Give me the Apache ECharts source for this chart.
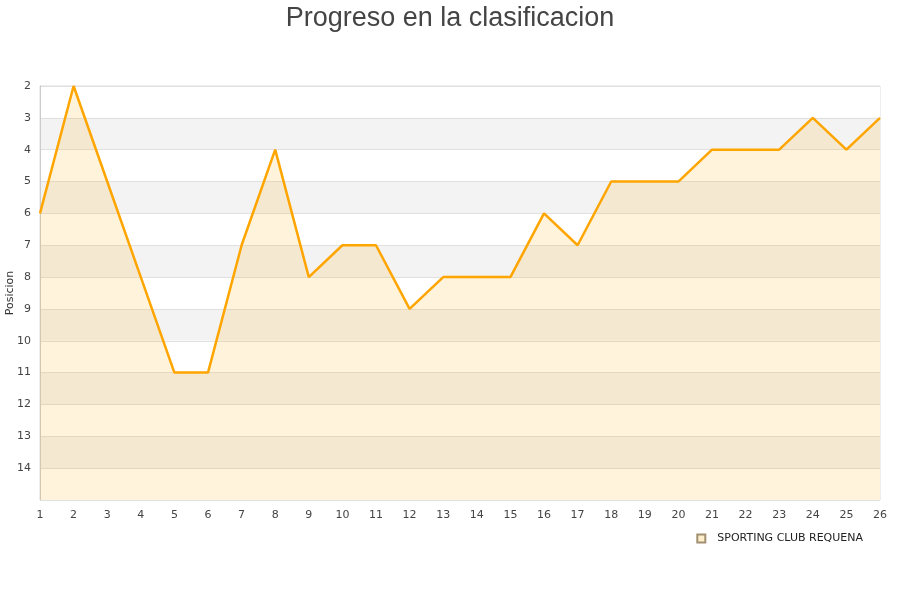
<!DOCTYPE html>
<html>
<head>
<meta charset="utf-8">
<script src="https://cdn.jsdelivr.net/npm/echarts@6/dist/echarts.min.js"></script>
<style>html,body{margin:0;padding:0;background:#fff}#c{width:900px;height:600px}</style>
</head>
<body>
<div id="c"></div>
<script>
var titleText = 'Progreso en la clasificacion';
var seriesName = 'SPORTING CLUB REQUENA';
var yAxisName = 'Posicion';
var jornadas = ['1','2','3','4','5','6','7','8','9','10','11','12','13','14','15','16','17','18','19','20','21','22','23','24','25','26'];
var posiciones = [6,2,5,8,11,11,7,4,8,7,7,9,8,8,8,6,7,5,5,5,4,4,4,3,4,3];
var yMin = 2, yMax = 15;

var chart = echarts.init(document.getElementById('c'));
chart.setOption({
  animation: false,
  title: {
    text: titleText, left: 'center', top: 0,
    textStyle: {fontFamily: 'Liberation Sans', fontSize: 27, fontWeight: 'normal', color: '#444'}
  },
  legend: {
    data: [{name: seriesName, icon: 'rect'}],
    right: 32, top: 528, itemWidth: 8, itemHeight: 8, itemGap: 8,
    textStyle: {fontFamily: 'DejaVu Sans', fontSize: 11, color: '#222', padding: [0, 0, 0, 7]}
  },
  grid: {left: 40, right: 20, top: 86, bottom: 100, show: true, borderColor: '#ddd', borderWidth: 1, containLabel: false, outerBoundsMode: 'none'},
  xAxis: {
    type: 'category', data: jornadas, boundaryGap: false,
    axisLine: {show: false}, axisTick: {show: false},
    axisLabel: {fontFamily: 'DejaVu Sans', fontSize: 11, color: '#444', margin: 10},
    splitLine: {show: false}
  },
  yAxis: {
    type: 'value', inverse: true, min: yMin, max: yMax, interval: 1,
    name: yAxisName, nameLocation: 'middle', nameGap: 24, nameRotate: 90, nameMoveOverlap: false,
    nameTextStyle: {fontFamily: 'DejaVu Sans', fontSize: 11, color: '#333'},
    axisLine: {show: true, lineStyle: {color: '#ccc'}}, axisTick: {show: false},
    axisLabel: {fontFamily: 'DejaVu Sans', fontSize: 11, color: '#444', margin: 9,
      formatter: function (v) { return v === yMax ? '' : String(v); }},
    splitLine: {show: true, lineStyle: {color: '#e0e0e0'}},
    splitArea: {show: true, areaStyle: {color: ['#ffffff', '#f3f3f3']}}
  },
  series: [{
    name: seriesName, type: 'line', data: posiciones,
    symbol: 'none', lineStyle: {color: '#FFA500', width: 2.5},
    itemStyle: {color: '#FFEECC', borderColor: '#a09070', borderWidth: 1},
    areaStyle: {color: 'rgba(255,170,0,0.2)', origin: 'end'}
  }]
});
</script>
</body>
</html>
